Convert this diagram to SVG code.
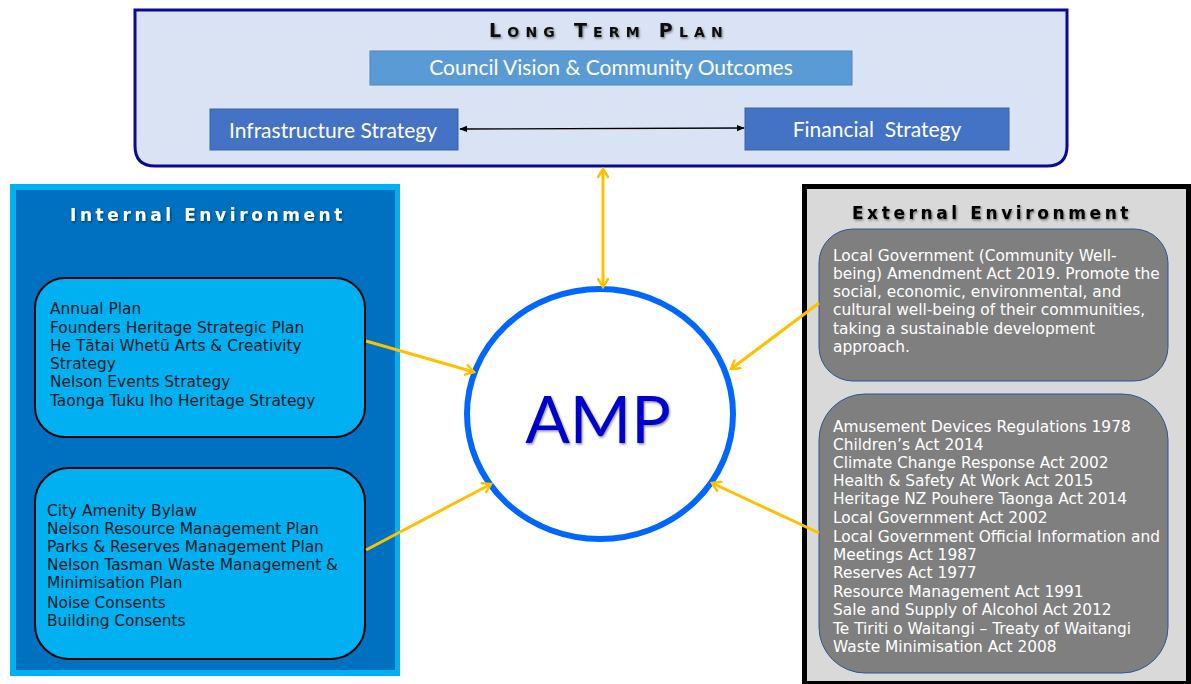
<svg xmlns="http://www.w3.org/2000/svg" width="1191" height="684" viewBox="0 0 1191 684">
<defs>
<marker id="ya" viewBox="0 0 12 12" refX="10" refY="6" markerWidth="12" markerHeight="12" markerUnits="userSpaceOnUse" orient="auto-start-reverse">
<path d="M2,1 L10,6 L2,11" fill="none" stroke="#FFC000" stroke-width="2.5" stroke-linecap="round"/>
</marker>
<marker id="ba" viewBox="0 0 10 10" refX="9" refY="5" markerWidth="8" markerHeight="8" markerUnits="userSpaceOnUse" orient="auto-start-reverse">
<path d="M0,1 L10,5 L0,9 Z" fill="#000"/>
</marker>
<filter id="sh" x="-10%" y="-30%" width="120%" height="160%">
<feDropShadow dx="1" dy="1.5" stdDeviation="1" flood-color="#000" flood-opacity="0.45"/>
</filter>
</defs>
<style>
.cal{font-family:Lato,"Open Sans","Liberation Sans",sans-serif;fill:#fff;font-size:21px;text-anchor:middle}
.ver{font-family:"DejaVu Sans",Verdana,sans-serif;font-size:15.4px}
.ttl{font-family:"DejaVu Sans",Verdana,sans-serif;font-weight:bold;font-size:17px;letter-spacing:3.6px;text-anchor:middle}
.yl{stroke:#FFC000;stroke-width:3;fill:none}
</style>
<rect width="1191" height="684" fill="#fff"/>

<g id="ltp">
<path d="M135,10 H1067 V146 Q1067,166 1047,166 H155 Q135,166 135,146 Z" fill="#DAE3F3" stroke="#0A0A96" stroke-width="3"/>
<text x="609" y="37" font-family="DejaVu Sans,Verdana,sans-serif" font-weight="bold" font-size="19" letter-spacing="6.2" text-anchor="middle" fill="#111" filter="url(#sh)">L<tspan font-size="14">ONG</tspan> T<tspan font-size="14">ERM</tspan> P<tspan font-size="14">LAN</tspan></text>
</g>
<g id="vision">
<rect x="370" y="51" width="482" height="34" fill="#5B9BD5" stroke="#4A86C0" stroke-width="1"/>
<text class="cal" x="611" y="75">Council Vision &amp; Community Outcomes</text>
</g>
<g id="infra">
<rect x="210" y="109" width="248" height="41" fill="#4472C4" stroke="#3A62AA" stroke-width="1"/>
<text class="cal" x="333" y="137.5">Infrastructure Strategy</text>
</g>
<g id="fin">
<rect x="745" y="108" width="264" height="42" fill="#4472C4" stroke="#3A62AA" stroke-width="1"/>
<text class="cal" x="877" y="136.5">Financial&#160; Strategy</text>
</g>

<g id="internal">
<rect x="10" y="184" width="390" height="492" fill="#00B0F0"/>
<rect x="16" y="190" width="379" height="480" fill="#0070C0"/>
<text class="ttl" x="208" y="221" fill="#fff" filter="url(#sh)">Internal Environment</text>
</g>
<g id="int1">
<rect x="35" y="278" width="330" height="159" rx="30" fill="#00B0F0" stroke="#000" stroke-width="2"/>
<text class="ver" fill="#0d1a26">
<tspan x="50" y="314">Annual Plan</tspan>
<tspan x="50" y="332.5">Founders Heritage Strategic Plan</tspan>
<tspan x="50" y="351">He Tātai Whetū Arts &amp; Creativity</tspan>
<tspan x="50" y="369">Strategy</tspan>
<tspan x="50" y="387">Nelson Events Strategy</tspan>
<tspan x="50" y="406">Taonga Tuku Iho Heritage Strategy</tspan>
</text>
</g>
<g id="int2">
<rect x="35" y="468" width="330" height="191" rx="34" fill="#00B0F0" stroke="#000" stroke-width="2"/>
<text class="ver" fill="#0d1a26">
<tspan x="47" y="516">City Amenity Bylaw</tspan>
<tspan x="47" y="534">Nelson Resource Management Plan</tspan>
<tspan x="47" y="552">Parks &amp; Reserves Management Plan</tspan>
<tspan x="47" y="570">Nelson Tasman Waste Management &amp;</tspan>
<tspan x="47" y="588">Minimisation Plan</tspan>
<tspan x="47" y="608">Noise Consents</tspan>
<tspan x="47" y="626">Building Consents</tspan>
</text>
</g>

<g id="external">
<rect x="804.5" y="186.5" width="384" height="497" fill="#D9D9D9" stroke="#000" stroke-width="5"/>
<text class="ttl" x="992" y="219" fill="#000" letter-spacing="5" filter="url(#sh)">External Environment</text>
</g>
<g id="ext1">
<rect x="819" y="229" width="349" height="152" rx="34" fill="#7F7F7F" stroke="#2F5597" stroke-width="1"/>
<text class="ver" fill="#fff">
<tspan x="833" y="261">Local Government (Community Well-</tspan>
<tspan x="833" y="279">being) Amendment Act 2019. Promote the</tspan>
<tspan x="833" y="297">social, economic, environmental, and</tspan>
<tspan x="833" y="315">cultural well-being of their communities,</tspan>
<tspan x="833" y="334">taking a sustainable development</tspan>
<tspan x="833" y="352">approach.</tspan>
</text>
</g>
<g id="ext2">
<rect x="819" y="394" width="349" height="279" rx="46" fill="#7F7F7F" stroke="#2F5597" stroke-width="1"/>
<text class="ver" fill="#fff">
<tspan x="833" y="432">Amusement Devices Regulations 1978</tspan>
<tspan x="833" y="450">Children’s Act 2014</tspan>
<tspan x="833" y="468">Climate Change Response Act 2002</tspan>
<tspan x="833" y="486">Health &amp; Safety At Work Act 2015</tspan>
<tspan x="833" y="504">Heritage NZ Pouhere Taonga Act 2014</tspan>
<tspan x="833" y="523">Local Government Act 2002</tspan>
<tspan x="833" y="542">Local Government Official Information and</tspan>
<tspan x="833" y="560">Meetings Act 1987</tspan>
<tspan x="833" y="578">Reserves Act 1977</tspan>
<tspan x="833" y="597">Resource Management Act 1991</tspan>
<tspan x="833" y="615">Sale and Supply of Alcohol Act 2012</tspan>
<tspan x="833" y="634">Te Tiriti o Waitangi – Treaty of Waitangi</tspan>
<tspan x="833" y="652">Waste Minimisation Act 2008</tspan>
</text>
</g>

<g id="amp">
<ellipse cx="600" cy="414" rx="133" ry="125" fill="#fff" stroke="#0066FF" stroke-width="6"/>
<text x="598" y="443" font-family="Lato,'Open Sans','Liberation Sans',sans-serif" font-size="66" text-anchor="middle" fill="#0000CC" filter="url(#sh)">AMP</text>
</g>

<g id="connectors">
<line x1="460" y1="129" x2="744" y2="128" stroke="#000" stroke-width="1.3" marker-start="url(#ba)" marker-end="url(#ba)"/>
<line class="yl" x1="603" y1="169" x2="603" y2="287" marker-start="url(#ya)" marker-end="url(#ya)"/>
<line class="yl" x1="366" y1="341" x2="474" y2="372" marker-end="url(#ya)"/>
<line class="yl" x1="366" y1="550" x2="491" y2="484" marker-end="url(#ya)"/>
<line class="yl" x1="819" y1="303" x2="731" y2="369" marker-end="url(#ya)"/>
<line class="yl" x1="819" y1="533" x2="712" y2="483" marker-end="url(#ya)"/>
</g>
</svg>
